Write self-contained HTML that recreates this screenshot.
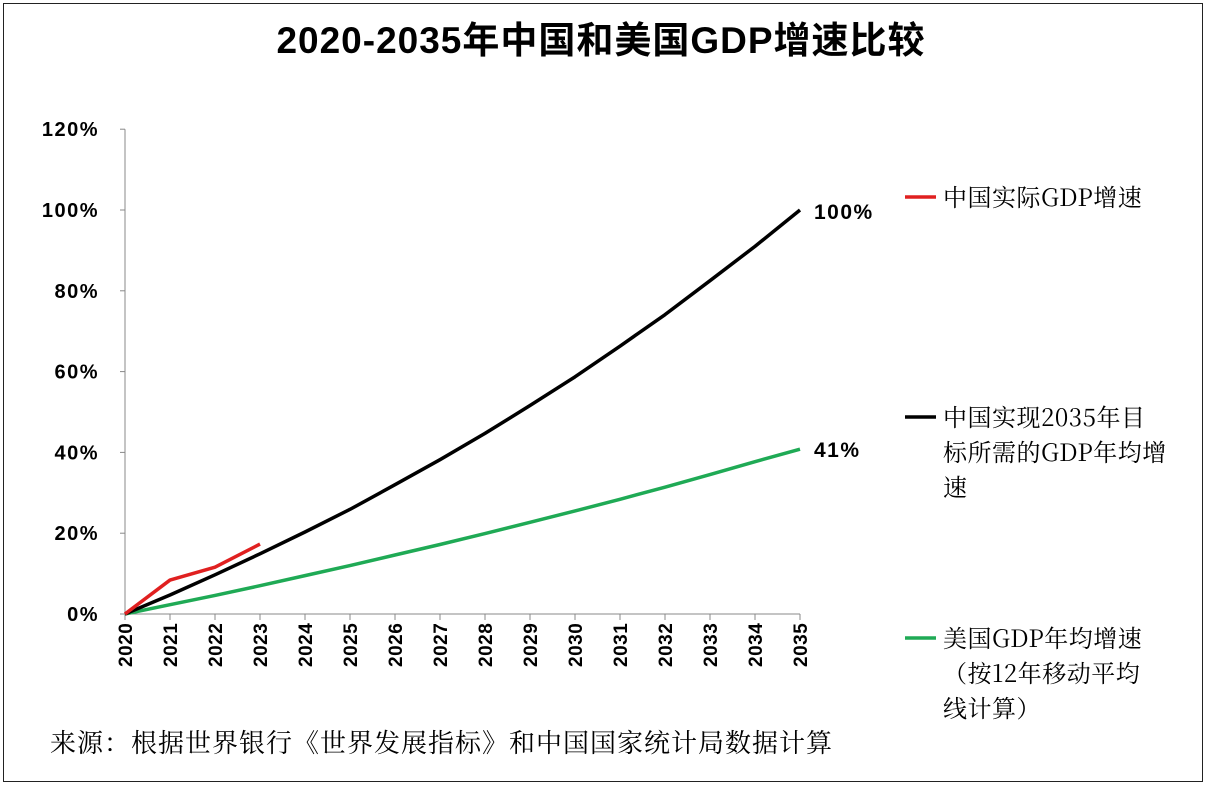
<!DOCTYPE html>
<html><head><meta charset="utf-8">
<style>
body{margin:0;background:#fff;width:1208px;height:787px;overflow:hidden;}
#frame{position:absolute;left:3px;top:3px;width:1200px;height:779px;border:1.5px solid #222;box-sizing:border-box;}
</style></head><body>
<div id="frame"></div>
<svg id="chart" width="1208" height="787" style="position:absolute;left:0;top:0">
<text x="601" y="53" text-anchor="middle" font-family="Liberation Sans, Noto Sans CJK SC, sans-serif" font-weight="bold" font-size="37" letter-spacing="1">2020-2035年中国和美国GDP增速比较</text>
<g id="axes"></g><g id="series"></g>
<text x="50" y="752" font-family="Noto Serif CJK SC, serif" font-size="26" letter-spacing="1">来源：根据世界银行《世界发展指标》和中国国家统计局数据计算</text>
</svg>
<script>
const years=[2020,2021,2022,2023,2024,2025,2026,2027,2028,2029,2030,2031,2032,2033,2034,2035];
const chinaActual=[0,8.4,11.6,17.3];
const chinaTarget=[0,4.7,9.7,14.9,20.3,25.9,32.0,38.2,44.7,51.6,58.7,66.3,74.1,82.5,91.0,100];
const usAvg=[0,2.3,4.6,7.0,9.5,12.0,14.6,17.2,19.9,22.7,25.5,28.4,31.4,34.5,37.7,40.8];
const yTicks=[0,20,40,60,80,100,120];
const NS="http://www.w3.org/2000/svg";
const x=y=>125+(y-2020)*45;
const yv=v=>614-v*4.04;
function mk(tag,attrs,parent,txt){const e=document.createElementNS(NS,tag);for(const k in attrs)e.setAttribute(k,attrs[k]);if(txt!==undefined)e.textContent=txt;parent.appendChild(e);return e;}
const ax=document.getElementById('axes'),se=document.getElementById('series');
let e=mk('line',{x1:125,y1:yv(120),x2:125,y2:614,stroke:'#888','stroke-width':1},ax);

e=mk('line',{x1:125,y1:614,x2:800,y2:614,stroke:'#888','stroke-width':1},ax);

yTicks.forEach(t=>{
 mk('line',{x1:120,x2:125,y1:yv(t),y2:yv(t),stroke:'#888'},ax);
 const l=mk('text',{x:99,y:yv(t)+7,'text-anchor':'end','font-family':'Liberation Sans, sans-serif','font-weight':'bold','font-size':20,'letter-spacing':1.5},ax,t+'%');
 
});
years.forEach(yr=>{
 mk('line',{x1:x(yr),x2:x(yr),y1:614,y2:620,stroke:'#888'},ax);
 const l=mk('text',{x:0,y:0,transform:`translate(${x(yr)+7},${667}) rotate(-90)`,'font-family':'Liberation Sans, sans-serif','font-weight':'bold','font-size':19,'letter-spacing':0.5},ax,yr);
 
});
function line(vals,color,name){
 const p=vals.map((v,i)=>x(years[i])+','+yv(v)).join(' ');
 const l=mk('polyline',{points:p,fill:'none',stroke:color,'stroke-width':3.5,'stroke-linejoin':'round'},se);
 
}
line(usAvg,'#1faa55','us-gdp-line');
line(chinaTarget,'#000','china-target-line');
line(chinaActual,'#e02020','china-actual-line');
let t=mk('text',{x:814,y:yv(chinaTarget[15])+9,'font-family':'Liberation Sans, sans-serif','font-weight':'bold','font-size':21,'letter-spacing':1.5},se,Math.round(chinaTarget[15])+'%');

t=mk('text',{x:814,y:yv(usAvg[15])+8,'font-family':'Liberation Sans, sans-serif','font-weight':'bold','font-size':21,'letter-spacing':1.5},se,Math.round(usAvg[15])+'%');

const legends=[
 {c:'#e02020',y:197,lines:['中国实际GDP增速'],n:'legend-china-actual'},
 {c:'#000',y:417,lines:['中国实现2035年目','标所需的GDP年均增','速'],n:'legend-china-target'},
 {c:'#1faa55',y:638,lines:['美国GDP年均增速','（按12年移动平均','线计算）'],n:'legend-us'}];
legends.forEach(L=>{
 const g=mk('g',{},se);
 
 mk('line',{x1:905,x2:936,y1:L.y,y2:L.y,stroke:L.c,'stroke-width':3.5},g);
 L.lines.forEach((s,i)=>mk('text',{x:943,y:L.y+9+i*35,'font-family':'Noto Serif CJK SC, serif','font-size':24,'letter-spacing':0.5},g,s));
});
</script>
</body></html>
